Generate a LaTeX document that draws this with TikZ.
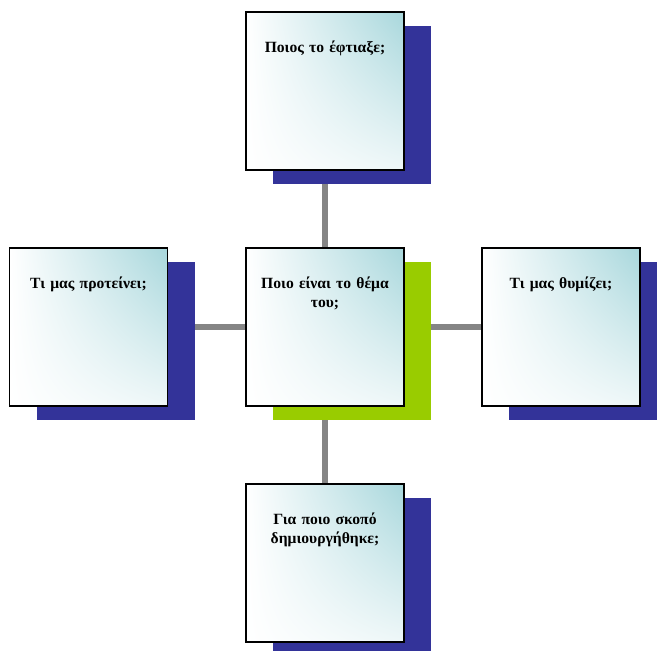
\documentclass[tikz,border=0pt]{standalone}
\usepackage{fontspec}
\setmainfont{Liberation Serif}
\usetikzlibrary{backgrounds,calc,shadings}
\definecolor{navyshadow}{HTML}{333399}
\definecolor{greenshadow}{HTML}{99CC00}
\definecolor{boxcyan}{HTML}{A8D7DC}
\definecolor{boxpale}{HTML}{EEF7F8}
\definecolor{linkgray}{HTML}{858585}
\tikzset{
  qbox/.style={draw=black, line width=1.6pt, minimum width=158pt, minimum height=158pt,
    inner sep=0pt, shade, upper left=white, upper right=boxcyan, lower left=white, lower right=boxpale},
  shadowbox/.style={minimum width=158pt, minimum height=158pt, inner sep=0pt, draw=none},
  qtext/.style={anchor=base, text width=145pt, align=center, inner sep=0pt,
    font=\bfseries\fontsize{15.6}{19.5}\selectfont},
  link/.style={draw=linkgray, line width=5.5pt}
}
\begin{document}
\begin{tikzpicture}[x=1pt,y=-1pt]
\useasboundingbox (0,0) rectangle (657,651);
% boxes
\node[qbox] (t) at (325,91) {};
\node[qbox] (c) at (325,327) {};
\node[qbox] (l) at (88.5,327) {};
\node[qbox] (r) at (561,327) {};
\node[qbox] (b) at (325,563) {};
% texts
\node[qtext] (tt) at ([yshift=-41pt]t.north) {Ποιος το έφτιαξε;};
\node[qtext] (ct) at ([yshift=-41pt]c.north) {Ποιο είναι το θέμα\\ του;};
\node[qtext] (lt) at ([yshift=-41pt]l.north) {Τι μας προτείνει;};
\node[qtext] (rt) at ([yshift=-41pt]r.north) {Τι μας θυμίζει;};
\node[qtext] (bt) at ([yshift=-41pt]b.north) {Για ποιο σκοπό\\ δημιουργήθηκε;};
\begin{pgfonlayer}{background}
  \draw[link] (t.south) -- (c.north);
  \draw[link] (c.south) -- (b.north);
  \draw[link] (l.east) -- (c.west);
  \draw[link] (c.east) -- (r.west);
  \node[shadowbox, fill=navyshadow] (ts) at ($(t.center)+(27,14)$) {};
  \node[shadowbox, fill=greenshadow] (cs) at ($(c.center)+(27,14)$) {};
  \node[shadowbox, fill=navyshadow] (ls) at ($(l.center)+(27,14)$) {};
  \node[shadowbox, fill=navyshadow] (rs) at ($(r.center)+(27,14)$) {};
  \node[shadowbox, fill=navyshadow] (bs) at ($(b.center)+(27,14)$) {};
\end{pgfonlayer}
\end{tikzpicture}
\end{document}
